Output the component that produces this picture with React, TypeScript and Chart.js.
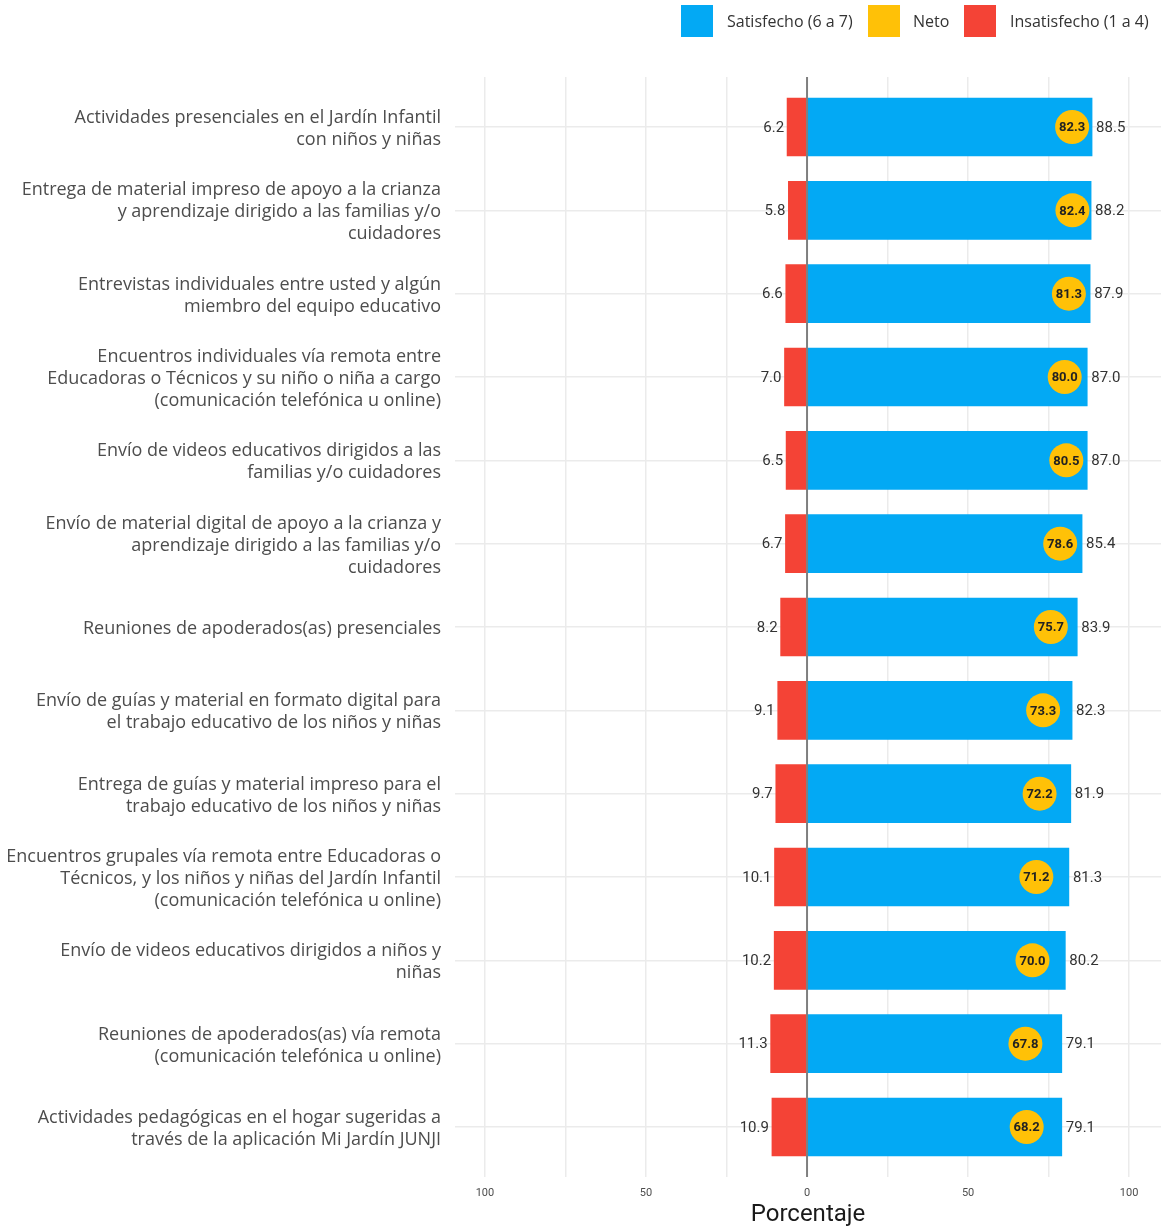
import React, { useEffect, useRef } from 'react';
import { Chart, registerables } from 'chart.js';

Chart.register(...registerables);

const categories: string[][] = [
  ['Actividades presenciales en el Jardín Infantil', 'con niños y niñas'],
  ['Entrega de material impreso de apoyo a la crianza', 'y aprendizaje dirigido a las familias y/o', 'cuidadores'],
  ['Entrevistas individuales entre usted y algún', 'miembro del equipo educativo'],
  ['Encuentros individuales vía remota entre', 'Educadoras o Técnicos y su niño o niña a cargo', '(comunicación telefónica u online)'],
  ['Envío de videos educativos dirigidos a las', 'familias y/o cuidadores'],
  ['Envío de material digital de apoyo a la crianza y', 'aprendizaje dirigido a las familias y/o', 'cuidadores'],
  ['Reuniones de apoderados(as) presenciales'],
  ['Envío de guías y material en formato digital para', 'el trabajo educativo de los niños y niñas'],
  ['Entrega de guías y material impreso para el', 'trabajo educativo de los niños y niñas'],
  ['Encuentros grupales vía remota entre Educadoras o', 'Técnicos, y los niños y niñas del Jardín Infantil', '(comunicación telefónica u online)'],
  ['Envío de videos educativos dirigidos a niños y', 'niñas'],
  ['Reuniones de apoderados(as) vía remota', '(comunicación telefónica u online)'],
  ['Actividades pedagógicas en el hogar sugeridas a', 'través de la aplicación Mi Jardín JUNJI'],
];

const satisfecho = [88.5, 88.2, 87.9, 87.0, 87.0, 85.4, 83.9, 82.3, 81.9, 81.3, 80.2, 79.1, 79.1];
const neto = [82.3, 82.4, 81.3, 80.0, 80.5, 78.6, 75.7, 73.3, 72.2, 71.2, 70.0, 67.8, 68.2];
const insatisfecho = [6.2, 5.8, 6.6, 7.0, 6.5, 6.7, 8.2, 9.1, 9.7, 10.1, 10.2, 11.3, 10.9];

const xTickValues = [-100, -75, -50, -25, 0, 25, 50, 75, 100];
const xTickLabels: Record<string, string> = { '-100': '100', '-50': '50', '0': '0', '50': '50', '100': '100' };
const legendLabels = ['Satisfecho (6 a 7)', 'Neto', 'Insatisfecho (1 a 4)'];
const axisTitle = 'Porcentaje';

const COLOR_SAT = '#03A9F4';
const COLOR_NETO = '#FFC107';
const COLOR_INSAT = '#F44336';
const LABEL_FONT = '"Open Sans", "Noto Sans", sans-serif';
const NUM_FONT = 'Roboto, sans-serif';

const overlayPlugin = {
  id: 'overlay',
  afterDatasetsDraw(chart: any) {
    const ctx = chart.ctx;
    const area = chart.chartArea;
    const xs = chart.scales.x;
    const x0 = xs.getPixelForValue(0);
    ctx.save();
    ctx.strokeStyle = '#7f7f7f';
    ctx.lineWidth = 2;
    ctx.beginPath();
    ctx.moveTo(x0, area.top);
    ctx.lineTo(x0, area.bottom);
    ctx.stroke();

    ctx.fillStyle = '#333333';
    ctx.font = `15px ${NUM_FONT}`;
    ctx.textBaseline = 'middle';
    const satMeta = chart.getDatasetMeta(1);
    satMeta.data.forEach((el: any, i: number) => {
      ctx.textAlign = 'left';
      ctx.fillText(satisfecho[i].toFixed(1), el.x + 4, el.y + 1);
    });
    const insMeta = chart.getDatasetMeta(2);
    insMeta.data.forEach((el: any, i: number) => {
      ctx.textAlign = 'right';
      ctx.fillText(insatisfecho[i].toFixed(1), el.x - 3, el.y + 1);
    });
    const netoMeta = chart.getDatasetMeta(0);
    ctx.font = `bold 13px ${NUM_FONT}`;
    ctx.fillStyle = '#222222';
    ctx.textAlign = 'center';
    netoMeta.data.forEach((el: any, i: number) => {
      ctx.fillText(neto[i].toFixed(1), el.x, el.y + 1);
    });
    ctx.restore();
  },
  afterDraw(chart: any) {
    const ctx = chart.ctx;
    ctx.save();
    const colors = [COLOR_SAT, COLOR_NETO, COLOR_INSAT];
    const boxX = [681, 868, 964];
    const textX = [727, 913, 1010];
    ctx.font = `16px ${LABEL_FONT}`;
    ctx.textBaseline = 'middle';
    ctx.textAlign = 'left';
    legendLabels.forEach((lab, i) => {
      ctx.fillStyle = colors[i];
      ctx.fillRect(boxX[i], 5, 32, 32);
      ctx.fillStyle = '#333333';
      ctx.fillText(lab, textX[i], 22);
    });
    ctx.restore();
  },
};

export default function App() {
  const ref = useRef<HTMLCanvasElement>(null);
  useEffect(() => {
    document.body.style.margin = '0';
    const chart = new Chart(ref.current as HTMLCanvasElement, {
      type: 'bar',
      data: {
        datasets: [
          {
            type: 'scatter',
            label: 'Neto',
            data: neto.map((v, i) => ({ x: v, y: i })),
            backgroundColor: COLOR_NETO,
            borderWidth: 0,
            pointRadius: 17,
            pointHoverRadius: 17,
            order: 0,
          } as any,
          {
            type: 'bar',
            label: 'Satisfecho (6 a 7)',
            data: satisfecho.map((v, i) => ({ x: v, y: i })),
            backgroundColor: COLOR_SAT,
            barThickness: 58,
            order: 1,
          },
          {
            type: 'bar',
            label: 'Insatisfecho (1 a 4)',
            data: insatisfecho.map((v, i) => ({ x: -v, y: i })),
            backgroundColor: COLOR_INSAT,
            barThickness: 58,
            order: 1,
          },
        ],
      },
      options: {
        indexAxis: 'y',
        responsive: false,
        animation: false,
        events: [],
        layout: { autoPadding: false, padding: { top: 77, left: 0, right: 0, bottom: 0 } },
        plugins: { legend: { display: false }, tooltip: { enabled: false } },
        scales: {
          x: {
            type: 'linear',
            stacked: true,
            offset: false,
            min: -109.3,
            max: 109.9,
            afterBuildTicks: (s: any) => {
              s.ticks = xTickValues.map((v) => ({ value: v }));
            },
            afterFit: (s: any) => {
              s.height = 51;
            },
            ticks: {
              autoSkip: false,
              maxRotation: 0,
              padding: 10,
              color: '#4d4d4d',
              font: { size: 11, family: NUM_FONT },
              callback: (v: any) => xTickLabels[String(v)] ?? '',
            },
            grid: { color: '#ebebeb', lineWidth: 1.5, drawTicks: false, offset: false },
            border: { display: false },
            title: {
              display: true,
              text: axisTitle,
              color: '#1a1a1a',
              font: { size: 24, family: NUM_FONT, lineHeight: 1.1 },
              padding: { top: 0, bottom: 0 },
            },
          },
          y: {
            type: 'linear',
            stacked: true,
            offset: false,
            reverse: true,
            min: -0.6,
            max: 12.6,
            afterBuildTicks: (s: any) => {
              s.ticks = categories.map((_, i) => ({ value: i }));
            },
            afterFit: (s: any) => {
              s.width = 455;
            },
            ticks: {
              autoSkip: false,
              padding: 14,
              labelOffset: 2,
              color: '#4d4d4d',
              font: { size: 18, family: LABEL_FONT, lineHeight: 1.22 },
              callback: (v: any) => categories[v as number],
            },
            grid: { color: '#ebebeb', lineWidth: 1.5, drawTicks: false, offset: false },
            border: { display: false },
          },
        },
      },
      plugins: [overlayPlugin],
    } as any);
    return () => chart.destroy();
  }, []);
  return (
    <div style={{ width: 1161, height: 1228 }}>
      <canvas ref={ref} width={1161} height={1228} style={{ display: 'block' }} />
    </div>
  );
}
